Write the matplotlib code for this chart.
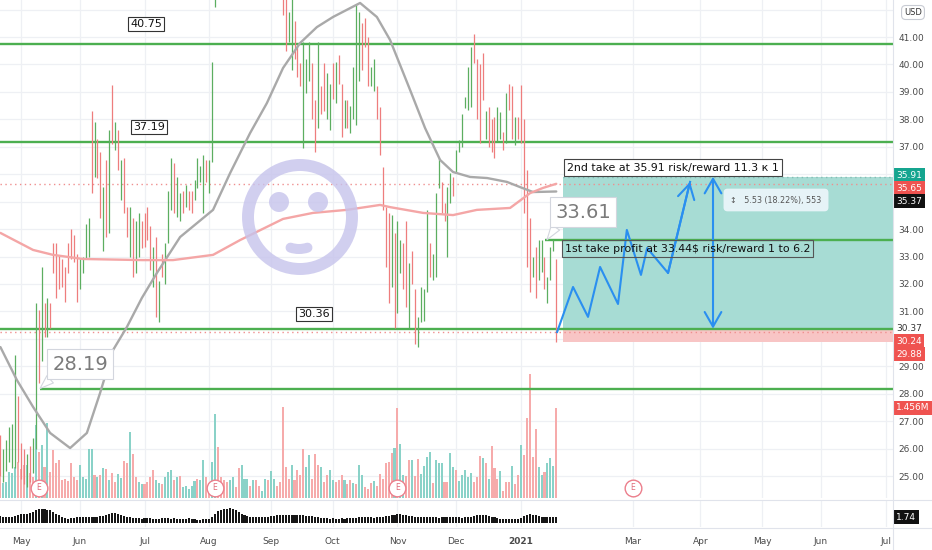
import numpy as np
import pandas as pd
import matplotlib
matplotlib.use('Agg')
import matplotlib.pyplot as plt
from matplotlib.patches import Ellipse, Arc
from matplotlib.lines import Line2D
from matplotlib.transforms import blended_transform_factory as btf
from matplotlib.ticker import FormatStrFormatter

plt.rcParams['font.family'] = ['DejaVu Sans']

# ---------------- data ----------------
start_date = '2020-04-22'
holidays = ['2020-05-25', '2020-07-03', '2020-09-07', '2020-11-26', '2020-12-25',
            '2021-01-01', '2021-01-18', '2021-02-15', '2021-04-02', '2021-05-31', '2021-07-05']

month_starts = ['2020-05-01', '2020-06-01', '2020-07-01', '2020-08-01', '2020-09-01',
                '2020-10-01', '2020-11-01', '2020-12-01', '2021-01-01', '2021-03-01',
                '2021-04-01', '2021-05-01', '2021-06-01', '2021-07-01']
month_labels = ['May', 'Jun', 'Jul', 'Aug', 'Sep', 'Oct', 'Nov', 'Dec', '2021',
                'Mar', 'Apr', 'May', 'Jun', 'Jul']
price_ticks = [25, 26, 27, 28, 29, 31, 32, 33, 34, 37, 38, 39, 40, 41]

bar_high = [26.5, 26.0, 26.3, 26.8, 26.9, 29.4, 27.9, 26.2, 26.0, 25.8, 26.1, 26.4,
            31.3, 31.05, 32.6, 31.3, 31.5, 31.3, 33.5, 33.5, 33.05, 32.9, 32.6,
            33.5, 34.0, 33.8, 33.1, 32.9, 33.0, 34.2, 34.4, 38.3, 37.9,
            37.3, 36.8, 35.55, 36.5, 37.6, 39.25, 37.9, 37.6, 36.5, 36.6,
            34.8, 34.8, 34.4, 34.3, 34.6, 34.3, 34.6, 34.8, 34.1, 33.35,
            33.7, 32.1, 33.1, 33.5, 35.4, 36.6, 36.4, 35.9, 35.3, 35.4,
            35.6, 35.4, 35.4, 35.8, 36.6, 36.3, 36.7, 36.5, 36.5, 40.1,
            44.0, 45.2, 46.0, 45.5, 46.8, 47.2, 46.5, 45.8, 46.9, 47.5, 46.2, 45.4,
            44.9, 45.7, 46.3, 45.1, 44.6, 45.3, 44.8, 44.2, 44.9, 44.5, 43.9, 43.2,
            42.6, 41.9, 42.6, 41.6, 40.65, 40.05, 40.8, 40.2, 40.8, 40.05,
            38.7, 40.8, 39.2, 40.05, 39.7, 39.3, 40.05, 40.1, 40.35, 39.3,
            38.7, 38.7, 38.5, 39.9, 42.2, 41.9, 41.5, 41.7, 41.0, 39.9,
            40.2, 39.2, 38.45, 36.25, 34.8, 34.6, 34.5, 33.85, 34.3, 33.6,
            33.5, 34.3, 32.75, 33.2, 31.8, 30.8,
            31.9, 31.8, 34.7, 33.5, 33.1, 35.3, 36.6, 35.7, 34.95, 35.55,
            36.05, 35.9, 36.9, 37.25, 38.2, 38.8, 39.9, 40.65, 41.1, 40.2,
            40.0, 40.4, 38.3, 38.45, 38.0, 38.1, 38.45, 38.25, 37.55, 38.95,
            39.3, 39.2, 38.1, 38.1, 39.25, 38.0, 36.15, 34.4, 33.0, 33.35,
            33.6, 33.6, 33.0, 32.25, 33.35, 33.6, 32.9]
bar_low = [25.0, 24.8, 25.2, 25.5, 25.3, 25.3, 25.5, 24.9, 24.7, 24.6, 24.8, 25.1,
           26.0, 28.4, 29.2, 30.05, 30.05, 30.4, 32.4, 31.5, 31.8, 31.9, 31.35,
           32.4, 32.9, 32.8, 31.35, 31.8, 32.4, 32.9, 33.0, 35.3, 35.9,
           35.85, 34.4, 33.2, 33.7, 33.85, 37.1, 36.9, 36.15, 35.05, 34.6,
           33.7, 33.0, 32.25, 32.4, 33.0, 33.3, 33.35, 33.6, 32.5, 31.9,
           30.8, 30.6, 32.25, 32.0, 33.5, 34.7, 34.6, 34.45, 34.3, 34.6,
           34.8, 34.7, 34.6, 35.05, 35.5, 35.7, 34.6, 35.7, 35.3, 36.45,
           42.1, 43.5, 44.2, 43.8, 44.9, 45.3, 44.8, 44.0, 45.1, 45.6, 44.5, 43.9,
           43.2, 44.1, 44.6, 43.6, 43.0, 43.7, 43.2, 42.8, 43.3, 42.9, 42.6, 41.8,
           40.5, 40.8, 39.8, 40.2, 39.55, 39.2, 36.95, 38.95, 39.4, 38.0,
           36.8, 37.7, 38.2, 38.3, 38.0, 37.6, 38.75, 38.6, 39.3, 37.35,
           37.7, 37.7, 37.5, 38.0, 37.8, 39.4, 39.8, 40.65, 39.2, 39.2,
           39.05, 38.0, 36.7, 34.7, 32.6, 31.3, 31.9, 30.4, 30.95, 32.4,
           31.8, 31.15, 30.4, 32.0, 29.8, 29.7,
           30.6, 30.65, 31.7, 32.25, 32.15, 32.25, 35.5, 34.6, 34.3, 33.0,
           34.95, 35.2, 36.05, 36.8, 37.0, 38.4, 38.35, 38.45, 40.05, 38.0,
           37.15, 38.7, 37.3, 37.0, 36.8, 36.6, 37.2, 37.3, 36.9, 37.15,
           38.35, 37.3, 37.05, 37.3, 37.15, 34.6, 32.6, 31.7, 32.25, 31.5,
           32.15, 32.45, 31.8, 31.3, 32.15, 33.2, 29.88]
bar_dir = ("rgggggrrrgrg"
           "grgrgrrrrrr" "rrrrggggrg" "rrgrgrgrgr" "rgrggrrrrg" "rgrgggrggr" "grrggggrgg"
           "gggrggrrggrrrggrrgrrgrrr"
           "rggrrrgggr" "rgrrggrgrr" "grggggrrrg" "grrrrrgrgg" "rrgrrg"
           "gggrgggrrg" "grggggggrr" "rrgrrrggrg" "rrgrrrrrgr" "ggrgggr")

volume_m = [0.58, 0.24, 0.26, 0.42, 0.41, 0.50, 0.59, 0.47, 0.53, 0.53, 0.40, 0.34,
            1.18, 0.74, 0.85, 0.50, 1.22, 0.42, 0.77, 0.56, 0.61, 0.29,
            0.31, 0.27, 0.57, 0.34, 0.29, 0.54, 0.34, 0.30, 0.80, 0.80,
            0.37, 0.34, 0.37, 0.49, 0.47, 0.29, 0.40, 0.26, 0.39, 0.32,
            0.60, 0.56, 1.07, 0.71, 0.34, 0.26, 0.23, 0.22, 0.26, 0.34,
            0.45, 0.29, 0.24, 0.22, 0.34, 0.42, 0.46, 0.29, 0.34, 0.35,
            0.18, 0.20, 0.15, 0.20, 0.27, 0.31, 0.29, 0.61, 0.34, 0.23,
            0.59, 1.36, 0.83, 0.34, 0.29, 0.26, 0.29, 0.34, 0.18, 0.49,
            0.53, 0.31, 0.31, 0.20, 0.29, 0.29, 0.20, 0.12, 0.30, 0.29,
            0.44, 0.31, 0.20, 0.26, 1.48,
            0.50, 0.30, 0.53, 0.29, 0.45, 0.37, 0.80, 0.50, 0.70, 0.31,
            0.71, 0.53, 0.50, 0.26, 0.38, 0.46, 0.29, 0.26, 0.29, 0.38,
            0.29, 0.23, 0.29, 0.24, 0.23, 0.53, 0.38, 0.17, 0.15, 0.24,
            0.27, 0.19, 0.39, 0.31, 0.57, 0.58, 0.72, 0.81, 1.45, 0.88,
            0.38, 0.36, 0.61, 0.61, 0.36, 0.63, 0.39, 0.51, 0.66, 0.75,
            0.24, 0.62, 0.57, 0.56, 0.26, 0.26, 0.73, 0.50, 0.45, 0.27,
            0.37, 0.46, 0.34, 0.41, 0.26, 0.34, 0.68, 0.64, 0.56, 0.31,
            0.84, 0.49, 0.30, 0.44, 0.12, 0.26, 0.26, 0.51, 0.23, 0.38,
            0.86, 0.69, 1.29, 2.01, 0.67, 1.12, 0.50, 0.37, 0.42, 0.56,
            0.64, 0.52, 1.456]
volume_dir = ("rgggggrrrgrr"
              "grgrgrrrrr" "rrrrrggggg" "rgrgrgrrgg" "rrgrrggrrr" "rggrgggrgr"
              "gggggrggrr" "ggrrrrggrr" "gggrgrrggr" "ggrrr"
              "rrgrrrrggr" "rrgrrggrrr" "grrgrggrrr" "grrrrrrgrg" "grrgrrgggg"
              "rgggrrggrg" "ggggrrrgrg" "rrrgrrrgrr" "grrrrrggrg" "ggr")

atr = [1.80, 1.78, 1.76, 1.75, 1.77, 1.85, 1.92,
       1.98, 2.02, 2.05, 2.10, 2.18,
       2.38, 2.42, 2.45, 2.44, 2.40, 2.33,
       2.20, 2.05, 1.90, 1.78,
       1.65, 1.60, 1.62,
       1.66, 1.70, 1.72, 1.74,
       1.75, 1.76, 1.74, 1.77, 1.78, 1.80, 1.86,
       1.95, 2.02, 2.06, 2.08, 2.03, 1.95,
       1.85, 1.76, 1.70, 1.66,
       1.63, 1.62, 1.60, 1.61, 1.63, 1.62, 1.60, 1.58, 1.60, 1.62,
       1.63, 1.61, 1.60, 1.62, 1.60, 1.58, 1.59, 1.60, 1.61,
       1.54, 1.52, 1.50, 1.51, 1.53, 1.55,
       1.60, 1.75, 2.00, 2.25,
       2.38, 2.45, 2.50, 2.52, 2.46, 2.35,
       2.20, 2.05, 1.92, 1.82,
       1.76, 1.74, 1.73, 1.75, 1.77, 1.76, 1.78, 1.80,
       1.85, 1.90, 1.93, 1.95, 1.96, 1.94, 1.93, 1.92, 1.91, 1.90, 1.88, 1.86, 1.84, 1.82,
       1.78, 1.72, 1.68, 1.64, 1.62, 1.60, 1.61, 1.59, 1.60, 1.62, 1.60, 1.61, 1.63, 1.66,
       1.68, 1.70, 1.71, 1.70, 1.72, 1.70, 1.69, 1.71, 1.73, 1.75, 1.80, 1.86,
       1.92, 1.96, 1.98, 1.97, 1.94, 1.90,
       1.86, 1.82, 1.78, 1.75, 1.73, 1.72, 1.70, 1.71, 1.72, 1.70, 1.69, 1.70,
       1.71, 1.73, 1.72, 1.70, 1.71, 1.70, 1.69, 1.70, 1.72, 1.78, 1.84,
       1.90, 1.95, 1.96, 1.92,
       1.86, 1.78, 1.70, 1.64, 1.60, 1.57, 1.55, 1.54, 1.55, 1.56, 1.60,
       1.68, 1.80, 1.92, 1.97, 1.95, 1.90,
       1.84, 1.78, 1.74, 1.72, 1.71, 1.72, 1.74]

ma_gray_idx = [0, 5.6, 11.1, 16.9, 23.7, 29.4, 33.9, 38.3, 43.0, 48.1, 53.2, 61.1, 72.3,
               78.1, 84.9, 90.6, 96.1, 101.9, 107.6, 113.1, 122.3, 128.0, 132.5, 139.3,
               144.4, 149.5, 153.9, 159.7, 165.5, 172.2, 176.7, 181.1, 189]
ma_gray_val = [29.70, 28.50, 27.52, 26.57, 26.02, 26.57, 28.03, 29.59, 30.43, 31.49, 32.40,
               33.71, 34.70, 36.04, 37.50, 38.59, 39.87, 40.78, 41.36, 41.73, 42.24, 41.73,
               40.89, 39.07, 37.68, 36.52, 36.08, 35.90, 35.86, 35.72, 35.53, 35.35, 35.37]
ma_red_idx = [0, 11.1, 17.9, 28.1, 48.1, 58.7, 72.3, 81.5, 96.1, 106.3, 117.8, 129.1,
              132.5, 143.7, 153.9, 162.0, 173.3, 180.1, 184.5, 189]
ma_red_val = [33.86, 33.24, 33.06, 32.91, 32.87, 32.87, 33.06, 33.60, 34.37, 34.59, 34.70,
              34.88, 34.80, 34.59, 34.51, 34.70, 34.77, 35.31, 35.50, 35.65]

levels_full = [40.75, 37.19, 30.36]
level_low, level_low_start = 28.19, 13.5
level_tp1, level_tp1_start = 33.61, 185.2
entry_price, target_price, stop_price = 30.37, 35.91, 29.88
last_close = 30.24
red_ma_last, gray_ma_last = 35.65, 35.37
last_volume = 1.456
last_atr = 1.74
earnings_idx = [13, 73, 135, 215]
position_start = 191.3
path_idx = [189.3, 194.7, 199.8, 203.9, 210.0, 213.0, 217.8, 219.9, 227.0, 234.5]
path_val = [30.25, 31.89, 30.80, 32.62, 31.27, 33.97, 32.33, 33.31, 32.40, 35.72]
range_arrow_idx = 242.3

# ---------------- layout helpers (pixel -> data) ----------------
W, H = 932, 550
PLOT_R = 893
def rect(x0, y0, x1, y1):
    return [x0 / W, 1 - y1 / H, (x1 - x0) / W, (y1 - y0) / H]
def ix(xpx):
    return (xpx - 0.41) / 2.941
def py(ypx):
    return 41 - (ypx - 37) / 27.44

XL = (ix(0), ix(PLOT_R))
YL = (py(498), py(0))

fig = plt.figure(figsize=(W / 100, H / 100), dpi=100)
ax_v = fig.add_axes(rect(0, 0, PLOT_R, 498))
ax = fig.add_axes(rect(0, 0, PLOT_R, 498), sharex=ax_v)
ax_i = fig.add_axes(rect(0, 500, PLOT_R, 527), sharex=ax_v)
ax.set_zorder(ax_v.get_zorder() + 1)
ax.patch.set_visible(False)

n = min(len(bar_high), len(bar_low), len(bar_dir))
nv = min(len(volume_m), len(volume_dir))
na = len(atr)

GREEN_BAR, RED_BAR = '#5cae60', '#ee7d7d'
GREEN_VOL, RED_VOL = '#8ad2c8', '#f6abab'
LEVEL = '#4caf50'
GRID = '#eef0f4'

days = pd.bdate_range(start=start_date, periods=340, freq='C', holidays=holidays)
tick_idx = [int(np.searchsorted(days.values, np.datetime64(m))) for m in month_starts]

for a in (ax_v, ax, ax_i):
    a.set_xlim(*XL)
    for s in a.spines.values():
        s.set_visible(False)
ax.set_ylim(*YL)
ax_v.set_ylim(0, 498 / (90 / last_volume))
atr_base = last_atr - 6 * 0.09
ax_i.set_ylim(last_atr - 10 * 0.09, last_atr + 17 * 0.09)

# grid
for t in tick_idx:
    ax_v.axvline(t, color=GRID, lw=0.9, zorder=0)
    ax_i.axvline(t, color=GRID, lw=0.9, zorder=0)
for p in range(25, 43):
    ax_v.add_line(Line2D([0, 1], [p, p], transform=btf(ax_v.transAxes, ax.transData),
                         color=GRID, lw=0.9, zorder=0))

# volume
ax_v.bar(np.arange(nv), volume_m[:nv], width=0.7,
         color=[GREEN_VOL if c == 'g' else RED_VOL for c in volume_dir[:nv]], zorder=1, lw=0)
ax_v.set_yticks([])
ax_v.tick_params(axis='x', length=0, labelbottom=False)

# position zones
ax.fill_between([position_start, XL[1]], entry_price, target_price, color='#a7dcd4', lw=0, zorder=1)
ax.fill_between([position_start, XL[1]], stop_price, entry_price, color='#f8c5c5', lw=0, zorder=1)
ax.hlines(target_price, position_start, XL[1], color='#86bdb5', lw=1, linestyles=(0, (1, 2.5)), zorder=1.5)

# dotted price lines
ax.axhline(red_ma_last, color='#ef8f8f', lw=1, ls=(0, (1, 2.5)), zorder=1.5)
ax.axhline(last_close, color='#ef8f8f', lw=1, ls=(0, (1, 2.5)), zorder=1.5)

# support / resistance
for lv in levels_full:
    ax.axhline(lv, color=LEVEL, lw=1.7, zorder=2)
ax.hlines(level_low, level_low_start, XL[1], color=LEVEL, lw=1.7, zorder=2)
ax.hlines(level_tp1, level_tp1_start, XL[1], color=LEVEL, lw=1.7, zorder=2)

# price bars
ax.vlines(np.arange(n), bar_low[:n], bar_high[:n],
          colors=[GREEN_BAR if c == 'g' else RED_BAR for c in bar_dir[:n]], lw=0.9, zorder=3)

# moving averages
ax.plot(ma_gray_idx, ma_gray_val, color='#a9a9a9', lw=1.7, zorder=4, solid_capstyle='round')
ax.plot(ma_red_idx, ma_red_val, color='#f4a6a6', lw=1.7, zorder=4, solid_capstyle='round')

# smiley
SM = '#c6c3ec'
ax.add_patch(Ellipse((ix(300), py(217)), 2 * 52 / 2.941, 2 * 52 / 27.44, fill=False,
                     ec=SM, lw=8.6, alpha=0.8, zorder=5))
for ex in (279, 318):
    ax.add_patch(Ellipse((ix(ex), py(202)), 20 / 2.941, 20 / 27.44, fc=SM, ec='none',
                         alpha=0.8, zorder=5))
ax.add_patch(Arc((ix(299), py(222)), 2 * 27 / 2.941, 2 * 27 / 27.44, theta1=198, theta2=342,
                 ec=SM, lw=7.2, alpha=0.8, zorder=5, capstyle='round'))

# level labels
for txt, xp, yp in (('40.75', 146, 24), ('37.19', 149, 127), ('30.36', 314, 314)):
    ax.text(ix(xp), py(yp), txt, ha='center', va='center', fontsize=8, color='#111',
            bbox=dict(boxstyle='square,pad=0.22', fc='white', ec='#333', lw=0.8), zorder=8)

# callouts
for txt, pt, ctr in (('28.19', (ix(40), level_low), (ix(80), py(364))),
                     ('33.61', (ix(547), level_tp1), (ix(583), py(212)))):
    ax.annotate(txt, xy=pt, xytext=ctr, ha='center', va='center', fontsize=14, color='#7b7b7b',
                bbox=dict(boxstyle='square,pad=0.28', fc='white', ec='#d3d6de', lw=0.8),
                arrowprops=dict(arrowstyle='wedge,tail_width=0.5', fc='white', ec='#d3d6de',
                                lw=0.8, shrinkA=0, shrinkB=0, relpos=(0.08, 0.0)), zorder=8)

# blue projection path
BLUE = '#2a8ff0'
ax.plot(path_idx, path_val, color=BLUE, lw=1.5, zorder=6)
ax.annotate('', xy=(path_idx[-1], path_val[-1]), xytext=(path_idx[-2], path_val[-2]),
            arrowprops=dict(arrowstyle='->,head_length=0.7,head_width=0.4', color=BLUE, lw=1.5,
                            shrinkA=0, shrinkB=0, mutation_scale=15), zorder=6)
ax.annotate('', xy=(range_arrow_idx, target_price), xytext=(range_arrow_idx, entry_price),
            arrowprops=dict(arrowstyle='<->,head_length=0.7,head_width=0.4', color=BLUE, lw=1.5,
                            shrinkA=0, shrinkB=0, mutation_scale=15), zorder=6)

# text boxes
ax.text(ix(567), py(167.5), '2nd take at 35.91 risk/reward 11.3 к 1', ha='left', va='center',
        fontsize=7.9, color='#111',
        bbox=dict(boxstyle='square,pad=0.28', fc='white', ec='#444', lw=0.8), zorder=9)
ax.text(ix(565), py(248.5), '1st take profit at 33.44$ risk/reward 1 to 6.2', ha='left',
        va='center', fontsize=7.9, color='#111',
        bbox=dict(boxstyle='square,pad=0.28', fc='none', ec='#555', lw=0.8), zorder=9)
ax.text(ix(776), py(200), '↕   5.53 (18.22%), 553', ha='center', va='center', fontsize=5.8,
        color='#555',
        bbox=dict(boxstyle='round,pad=0.85,rounding_size=0.5', fc='#e6f3f7', ec='none'), zorder=9)

# earnings markers
tr_e = btf(ax.transData, ax.transAxes)
ax.plot(earnings_idx, [10 / 498] * len(earnings_idx), 'o', transform=tr_e, ms=12,
        mfc='white', mec='#ec7f8c', mew=1.0, zorder=10, clip_on=False)
for e in earnings_idx:
    ax.text(e, 10 / 498, 'E', transform=tr_e, ha='center', va='center', fontsize=5.5,
            color='#e06b7a', zorder=11)

# right price scale
ax.yaxis.tick_right()
ax.set_yticks(price_ticks)
ax.yaxis.set_major_formatter(FormatStrFormatter('%.2f'))
ax.tick_params(axis='y', length=0, pad=4, labelsize=6.5, labelcolor='#4a4a4a')
ax.tick_params(axis='x', length=0, labelbottom=False)

def side_label(a, y, text, fc, tc='white'):
    a.annotate(text, xy=(1, y), xycoords=btf(a.transAxes, a.transData), xytext=(2.2, 0),
               textcoords='offset points', ha='left', va='center', fontsize=6.5, color=tc,
               bbox=dict(boxstyle='square,pad=0.3', fc=fc, ec='none'),
               annotation_clip=False, zorder=20)

side_label(ax, py(175), f'{target_price:.2f}', '#15a58f')
side_label(ax, py(188), f'{red_ma_last:.2f}', '#ef5350')
side_label(ax, py(201), f'{gray_ma_last:.2f}', '#111111')
side_label(ax, entry_price, f'{entry_price:.2f}', 'white', '#333')
side_label(ax, py(341), f'{last_close:.2f}', '#ef5350')
side_label(ax, py(354), f'{stop_price:.2f}', '#ef5350')
side_label(ax_v, last_volume, f'{last_volume:.3f}M', '#ef5350')
side_label(ax_i, last_atr, f'{last_atr:.2f}', '#111111')

# indicator pane
ax_i.bar(np.arange(na), np.array(atr) - atr_base, width=0.7, bottom=atr_base,
         color='#161616', lw=0, zorder=2)
ax_i.set_yticks([])
ax_i.set_xticks(tick_idx)
ax_i.set_xticklabels(month_labels)
ax_i.tick_params(axis='x', length=0, pad=7, labelsize=6.5, labelcolor='#4a4a4a')
for lab in ax_i.get_xticklabels():
    if lab.get_text() == '2021':
        lab.set_fontweight('bold')

# pane separators
for yy in (499.5, 527.5):
    fig.add_artist(Line2D([0, 1], [1 - yy / H, 1 - yy / H], color='#e0e3eb', lw=0.8))
fig.add_artist(Line2D([PLOT_R / W, PLOT_R / W], [0, 1], color='#e0e3eb', lw=0.8))

fig.text(913 / W, 1 - 12.5 / H, 'USD', ha='center', va='center', fontsize=6, color='#333',
         bbox=dict(boxstyle='round,pad=0.3,rounding_size=0.5', fc='white', ec='#c8cbd3', lw=0.8),
         zorder=30)

fig.savefig('out.png', dpi=100)
